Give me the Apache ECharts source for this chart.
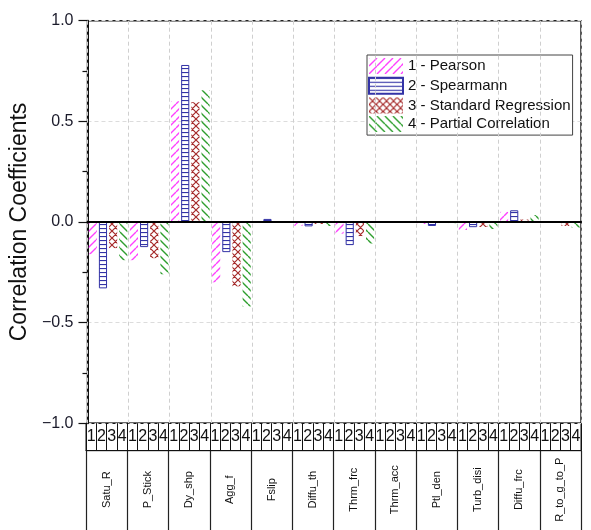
<!DOCTYPE html>
<html>
<head>
<meta charset="utf-8">
<script src="https://cdn.jsdelivr.net/npm/echarts@6/dist/echarts.min.js"></script>
<style>
html,body{margin:0;padding:0;background:#fff;}
#chart{width:591px;height:530px;}
</style>
</head>
<body>
<div id="chart"></div>
<script>
// ---- data ----
const categories = ['Satu_R','P_Stick','Dy_shp','Agg_f','Fslip','Diffu_th','Thrm_frc','Thrm_acc','Ptl_den','Turb_disi','Diffu_frc','R_to_g_to_P'];
const subLabels = ['1','2','3','4'];
const seriesNames = ['1 - Pearson','2 - Spearmann','3 - Standard Regression','4 - Partial Correlation'];
const pearson  = [-0.16, -0.19, 0.60, -0.30,  0.003, -0.02, -0.058,  0.002, -0.010, -0.040, 0.050, -0.004];
const spearman = [-0.33, -0.125,0.78, -0.15,  0.015, -0.022,-0.115, -0.005, -0.020, -0.026, 0.058, -0.003];
const stdReg   = [-0.13, -0.18, 0.595,-0.32,  0.002, -0.010,-0.070,  0.001, -0.003, -0.025, 0.012, -0.020];
const partial  = [-0.19, -0.26, 0.655,-0.42, -0.003, -0.020,-0.107, -0.002, -0.006, -0.035, 0.034, -0.028];
const yMin = -1, yMax = 1, yStep = 0.5;

// ---- hatch patterns ----
function hatch(kind, color, size, lw) {
  const c = document.createElement('canvas');
  c.width = size; c.height = size;
  const g = c.getContext('2d');
  g.strokeStyle = color; g.lineWidth = lw;
  g.beginPath();
  for (let k = -size; k <= size; k += size) {
    if (kind === 'fwd' || kind === 'cross') { g.moveTo(k, size); g.lineTo(k + size, 0); }
    if (kind === 'back' || kind === 'cross') { g.moveTo(k, 0); g.lineTo(k + size, size); }
  }
  if (kind === 'hgrid') { g.moveTo(0, 0.5); g.lineTo(size, 0.5); }
  g.stroke();
  return { image: c, repeat: 'repeat' };
}
const colors = ['#ff40ff', '#3333a6', '#a52a2a', '#2e9e2e'];
const fills = [
  hatch('fwd', colors[0], 8, 1.4),
  hatch('hgrid', colors[1], 4, 1.2),
  hatch('cross', colors[2], 7, 1.2),
  hatch('back', colors[3], 8, 1.4)
];
const values = [pearson, spearman, stdReg, partial];

const font = 'Liberation Sans, Arial, sans-serif';
const L = 86, R = 10, TOP = 20.7, MAINH = 402.5, ROWH = 27.5;

const chart = echarts.init(document.getElementById('chart'), null, {renderer: 'canvas'});
chart.setOption({
  animation: false,
  backgroundColor: '#fff',
  textStyle: { fontFamily: font },
  grid: [
    { left: L, right: R, top: TOP, height: MAINH, show: true, borderColor: '#222', borderWidth: 1.5, backgroundColor: 'transparent' },
    { left: L, right: R, top: TOP + MAINH, height: ROWH, show: true, borderColor: '#111', borderWidth: 1 },
    { left: L, right: R, top: TOP + MAINH + ROWH, height: 90, show: false }
  ],
  legend: {
    data: seriesNames,
    orient: 'vertical',
    left: 367, top: 55,
    padding: [3, 2, 3, 1],
    itemWidth: 34, itemHeight: 16, itemGap: 2.7,
    icon: 'rect',
    borderColor: '#444', borderWidth: 1,
    backgroundColor: '#fff',
    textStyle: { fontSize: 15, color: '#111', fontFamily: font }
  },
  xAxis: [
    {
      gridIndex: 0, type: 'category', data: categories, z: 5,
      axisLine: { onZero: true, lineStyle: { color: '#000', width: 2 } },
      axisTick: { show: false }, axisLabel: { show: false },
      splitLine: { show: true, interval: 0, lineStyle: { color: '#cfcfcf', type: [4, 3], width: 1 } }
    },
    {
      gridIndex: 1, type: 'category', position: 'bottom',
      data: categories.flatMap(c => subLabels.map(s => s)),
      axisLine: { lineStyle: { color: '#111', width: 1 } },
      axisTick: { show: true, inside: true, interval: 0, length: ROWH, lineStyle: { color: '#111', width: 1 } },
      axisLabel: { inside: true, interval: 0, margin: 14, verticalAlign: 'middle', fontSize: 16, color: '#111', fontFamily: font }
    },
    {
      gridIndex: 2, type: 'category', position: 'top', data: categories,
      axisLine: { lineStyle: { color: '#111', width: 1 } },
      axisTick: { show: false },
      splitLine: { show: true, interval: 0, lineStyle: { color: '#222', width: 1.2, type: 'solid' } },
      axisLabel: { inside: true, interval: 0, rotate: 90, align: 'center', verticalAlign: 'middle', margin: 39, fontSize: 11, color: '#111', fontFamily: font }
    }
  ],
  yAxis: [
    {
      gridIndex: 0, type: 'value', min: yMin, max: yMax, interval: yStep,
      name: 'Correlation Coefficients', nameLocation: 'middle', nameGap: 48,
      nameTextStyle: { fontSize: 23, color: '#111', fontFamily: font },
      axisLine: { show: true, lineStyle: { color: '#111', width: 2 } },
      axisTick: { show: true, length: 9, lineStyle: { color: '#111', width: 1.2 } },
      minorTick: { show: true, splitNumber: 2, length: 5, lineStyle: { color: '#111', width: 1.2 } },
      axisLabel: { margin: 14, fontSize: 16, color: '#1a1a2a', fontFamily: font,
        formatter: v => v.toFixed(1).replace('-', '\u2212') },
      splitLine: { show: true, lineStyle: { color: '#dcdcdc', type: [4, 3], width: 1 } }
    },
    { gridIndex: 1, type: 'value', show: false, min: 0, max: 1 },
    { gridIndex: 2, type: 'value', show: false, min: 0, max: 1, axisLine: { show: true, lineStyle: { color: '#111', width: 2 } } }
  ],
  series: values.map((vals, i) => ({
    name: seriesNames[i], type: 'bar', xAxisIndex: 0, yAxisIndex: 0,
    data: vals,
    barGap: '25%', barCategoryGap: '6%',
    itemStyle: i === 1
      ? { color: fills[i], borderColor: colors[1], borderWidth: 1 }
      : { color: fills[i] },
    emphasis: { disabled: true }
  }))
});
</script>
</body>
</html>
